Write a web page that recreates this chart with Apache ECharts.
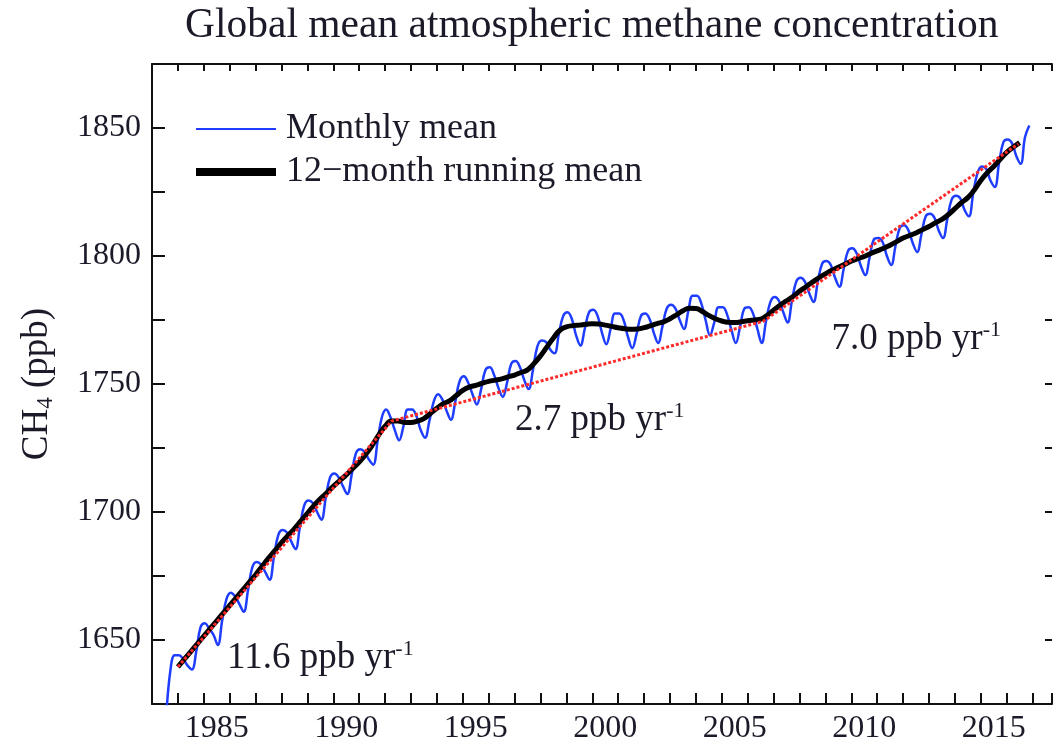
<!DOCTYPE html>
<html>
<head>
<meta charset="utf-8">
<script src="https://cdn.jsdelivr.net/npm/echarts@6/dist/echarts.min.js"></script>
<style>html,body{margin:0;padding:0;background:#fff;overflow:hidden}#c{width:1055px;height:745px}</style>
</head>
<body>
<div id="c"></div>
<script>
// ---------------- data ----------------
const chartTitle = 'Global mean atmospheric methane concentration';
const seriesNames = ['Monthly mean', '12\u2212month running mean'];

// monthly mean CH4 (ppb), sampled every 2 months starting Jul 1983
const monthlyStart = 1983 + 6.5 / 12;
const monthlyStep = 1 / 6;
const monthlyMean = [
  1619, 1638, 1644,
  1644, 1642.5, 1640, 1638.5, 1645.5, 1655,
  1656.5, 1654.5, 1652, 1648, 1657.5, 1666,
  1668.5, 1667, 1664, 1661, 1669.5, 1678.5,
  1680.5, 1679.5, 1676.5, 1673.5, 1682.5, 1691,
  1693, 1692, 1688.5, 1685.5, 1694, 1702.5,
  1704.5, 1703.5, 1700, 1697, 1705.5, 1713.5,
  1715, 1713.5, 1710, 1707, 1714.5, 1723,
  1724.5, 1723.5, 1720.5, 1718.5, 1727.5, 1737,
  1740, 1737, 1732, 1728, 1733.5, 1740,
  1740, 1737.5, 1732, 1729, 1735.5, 1743,
  1746, 1744, 1739.5, 1736, 1743, 1751,
  1753, 1750.5, 1746, 1742, 1748, 1755.5,
  1756.5, 1753.5, 1748.5, 1745, 1750.5, 1758,
  1759, 1756.5, 1751.5, 1748, 1755.5, 1764.5,
  1767, 1766.5, 1763.5, 1762, 1769.5, 1776.5,
  1778, 1775.5, 1769, 1765, 1771.5, 1778,
  1779, 1776.5, 1770, 1765.5, 1771.5, 1777.5,
  1777.5, 1775, 1768.5, 1764, 1769.5, 1776.5,
  1777.5, 1775.5, 1770, 1766, 1772.5, 1779.5,
  1781, 1779.5, 1775, 1771.5, 1778.5, 1784.5,
  1784.5, 1781.5, 1775, 1769, 1774, 1780,
  1780, 1777, 1771, 1766, 1772.5, 1779.5,
  1780, 1777.5, 1771.5, 1766, 1774.5, 1782,
  1784, 1782.5, 1778, 1774, 1782.5, 1790,
  1791.5, 1790, 1785.5, 1782, 1790, 1797,
  1798, 1796.5, 1791.5, 1788, 1795, 1802,
  1803, 1801, 1796, 1792.5, 1799.5, 1806.5,
  1807, 1805.5, 1800, 1796.5, 1804, 1811,
  1812, 1810, 1805, 1801.5, 1808.5, 1815.5,
  1816.5, 1815, 1810, 1807, 1814.5, 1822,
  1823.5, 1822.5, 1818, 1815.5, 1824.5, 1832.5,
  1835, 1834, 1829.5, 1827, 1836.5, 1844.5,
  1845.5, 1844, 1839, 1836, 1846.5, 1851
];

// 12-month running mean (ppb), quarterly from 1984.0
const runStart = 1984.0;
const runStep = 0.25;
const runMean = [
  1639.5, 1642.5, 1645.5, 1648.5,
  1651.5, 1654.5, 1657.5, 1660.5,
  1663.5, 1666.5, 1669.5, 1672.5,
  1675.5, 1678.8, 1682, 1685,
  1688, 1690.8, 1693.5, 1696.5,
  1699.5, 1702.5, 1705.2, 1707.5,
  1710, 1712.3, 1714.5, 1717,
  1719.5, 1722.5, 1726, 1730,
  1733.5, 1735.5, 1735.5, 1735,
  1735, 1735.5, 1736.5, 1738.5,
  1740.5, 1742.3, 1743.5, 1745.5,
  1747.5, 1748.8, 1749.5, 1750.3,
  1751, 1751.5, 1752, 1752.8,
  1753.5, 1754.5, 1755.5, 1758,
  1761, 1764.5, 1768, 1771,
  1772.3, 1772.8, 1773, 1773.3,
  1773.5, 1773.4, 1773, 1772.5,
  1772, 1771.6, 1771.4, 1771.5,
  1772, 1772.8, 1773.6, 1774.3,
  1775.5, 1777, 1778.6, 1779.6,
  1779.5, 1778.3, 1776.8, 1775.5,
  1774.6, 1774.1, 1774, 1774.3,
  1774.7, 1775, 1775.3, 1776.8,
  1778.8, 1780.8, 1782.5, 1784.2,
  1786.2, 1788, 1789.8, 1791.5,
  1793, 1794.4, 1795.6, 1796.8,
  1798, 1799, 1799.8, 1801,
  1802, 1803, 1804.2, 1805.6,
  1807, 1808, 1809, 1810.3,
  1811.5, 1813, 1814.3, 1816.2,
  1818.5, 1820.8, 1822.8, 1825.8,
  1829.5, 1832.5, 1835, 1837.8,
  1840.5, 1842.5, 1844.3
];

// piecewise linear trends (red dotted)
const trendYears = [1984.0, 1992.25, 2006.6, 2016.45];
const trendValues = [1639.5, 1735.5, 1774.5, 1843.8];

// growth-rate annotations
const rateTexts = ['11.6', '2.7', '7.0'];
const rateYears = [1985.9, 1997.02, 2009.24];
const rateValues = [1643.0, 1736.0, 1767.6];

// axes
const xMin = 1983, xMax = 2017.75, xTickStep = 1, xLabelStep = 5;
const yMin = 1625, yMax = 1875, yTickStep = 25, yLabelStep = 50;

// ---------------- chart ----------------
const FONT = '"Liberation Serif", "Times New Roman", "DejaVu Serif", serif';
const TXT = '#1a1a28';
const BLUE = '#1f3dff';
const RED = '#ff2a2a';
const AX = '#111';

const monthlyData = monthlyMean.map((v, i) => [monthlyStart + i * monthlyStep, v]);
const runData = runMean.map((v, i) => [runStart + i * runStep, v]);
const trendData = trendYears.map((y, i) => [y, trendValues[i]]);
const rateData = rateTexts.map((t, i) => ({
  value: [rateYears[i], rateValues[i]],
  label: { formatter: '{a|' + t + ' ppb yr}{s|-1}' }
}));

const axLine = { show: true, onZero: false, lineStyle: { color: AX, width: 2 } };

const chart = echarts.init(document.getElementById('c'), null, { renderer: 'canvas' });
chart.setOption({
  animation: false,
  backgroundColor: '#fff',
  title: {
    text: chartTitle, left: 185, top: 5, padding: 0,
    textStyle: { fontSize: 41.5, fontWeight: 'normal', fontFamily: FONT, color: TXT }
  },
  legend: {
    orient: 'vertical', left: 196, top: 108, padding: 0,
    itemWidth: 80, itemHeight: 14, itemGap: 1,
    data: [
      { name: seriesNames[0], icon: 'path://M0 0H80V2H0Z' },
      { name: seriesNames[1], icon: 'path://M0 0H80V8H0Z' }
    ],
    textStyle: { fontSize: 36, fontFamily: FONT, color: TXT, lineHeight: 42, padding: [0, 0, 0, 5] }
  },
  grid: { left: 152, top: 64, width: 910, height: 645 },
  xAxis: [
    { type: 'value', min: xMin, max: xMax, interval: xTickStep, position: 'bottom',
      axisLine: axLine, axisTick: { show: true, inside: true, length: 11, lineStyle: { color: AX, width: 2 } },
      axisLabel: { show: false }, splitLine: { show: false } },
    { type: 'value', min: xMin, max: xMax, interval: xTickStep, position: 'top',
      axisLine: axLine, axisTick: { show: true, inside: true, length: 7, lineStyle: { color: AX, width: 2 } },
      axisLabel: { show: false }, splitLine: { show: false } },
    { type: 'value', min: xMin - 0.5, max: xMax - 0.5, interval: 0.5, position: 'bottom',
      axisLine: { show: false }, axisTick: { show: false }, splitLine: { show: false },
      axisLabel: { show: true, margin: 9, fontSize: 32, fontFamily: FONT, color: TXT,
        formatter: v => (v % xLabelStep === 0 ? String(v) : '') } }
  ],
  yAxis: [
    { type: 'value', min: yMin, max: yMax, interval: yTickStep, position: 'left',
      axisLine: axLine, axisTick: { show: true, inside: true, length: 13, lineStyle: { color: AX, width: 2 } },
      axisLabel: { margin: 11, fontSize: 32, fontFamily: FONT, color: TXT,
        formatter: v => (v % yLabelStep === 0 ? String(v) : '') },
      splitLine: { show: false },
      name: '{a|CH}{s|4}{a| (ppb)}', nameLocation: 'middle', nameRotate: 90, nameGap: 95,
      nameTextStyle: { fontFamily: FONT, color: TXT,
        rich: { a: { fontSize: 37, fontFamily: FONT, color: TXT, lineHeight: 40 },
                s: { fontSize: 23, fontFamily: FONT, color: TXT, lineHeight: 40, verticalAlign: 'bottom', padding: [14, 0, 0, 0] } } } },
    { type: 'value', min: yMin, max: yMax, interval: yTickStep, position: 'right',
      axisLine: { show: false }, axisTick: { show: true, inside: true, length: 7, lineStyle: { color: AX, width: 2 } },
      axisLabel: { show: false }, splitLine: { show: false } }
  ],
  series: [
    { type: 'line', name: seriesNames[0], data: monthlyData, symbol: 'none', smooth: 0.4,
      color: BLUE, lineStyle: { width: 2.5, color: BLUE }, z: 2 },
    { type: 'line', name: seriesNames[1], data: runData, symbol: 'none', smooth: 0.5,
      color: '#000', lineStyle: { width: 5, color: '#000' }, z: 3 },
    { type: 'line', name: 'trend', data: trendData, symbol: 'none',
      color: RED, lineStyle: { width: 3, color: RED, type: [3, 2] }, z: 4 },
    { type: 'scatter', name: 'rates', data: rateData, symbolSize: 0, silent: true, z: 5,
      itemStyle: { opacity: 1 },
      label: { show: true, position: 'right', distance: 0, color: TXT, opacity: 1,
        rich: { a: { fontSize: 37, fontFamily: FONT, color: TXT, lineHeight: 40 },
                s: { fontSize: 22, fontFamily: FONT, color: TXT, lineHeight: 40, verticalAlign: 'top', padding: [0, 0, 14, 0] } } } }
  ]
});
</script>
</body>
</html>
